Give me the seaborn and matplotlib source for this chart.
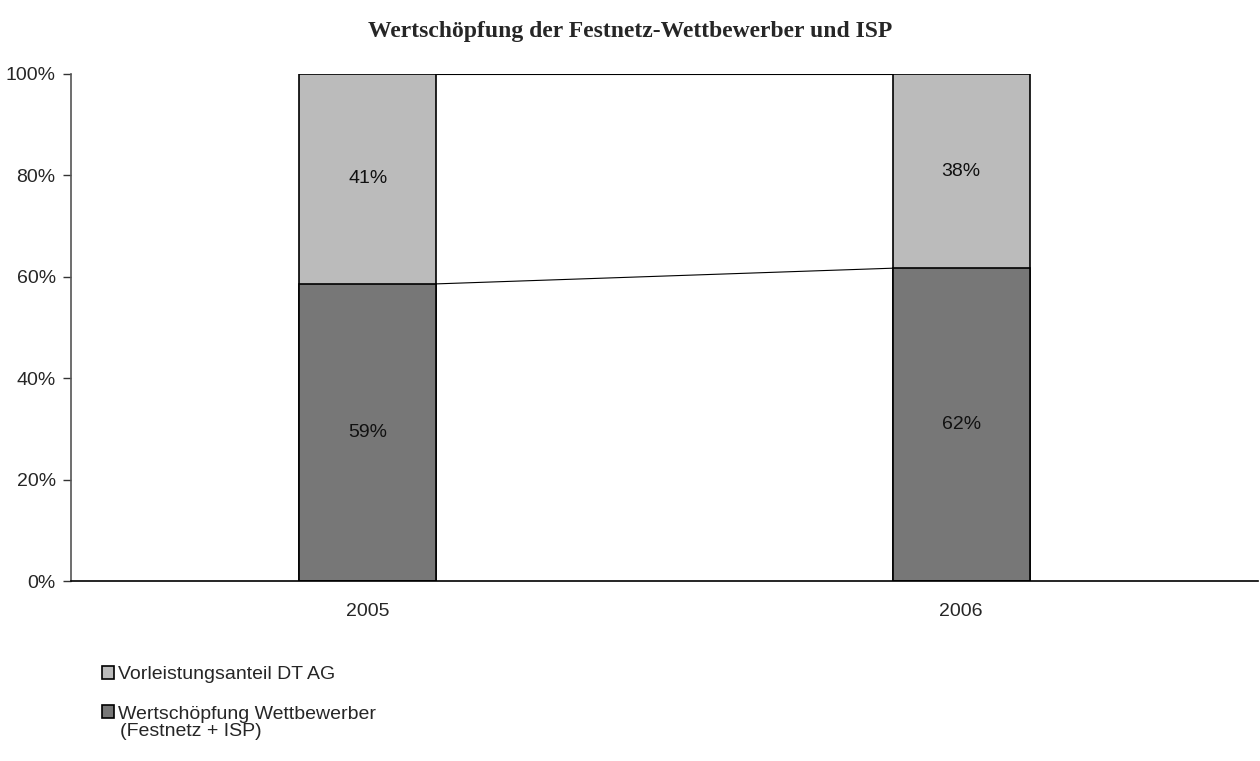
import pandas as pd
import matplotlib.pyplot as plt
import seaborn as sns
from matplotlib.patches import Patch

# data
years = ['2005', '2006']
wertschoepfung = [58.6, 61.7]   # Wertschöpfung Wettbewerber (Festnetz + ISP)
vorleistung = [41.4, 38.3]      # Vorleistungsanteil DT AG
label_bottom = ['59%', '62%']
label_top = ['41%', '38%']
series_names = ['Vorleistungsanteil DT AG', 'Wertschöpfung Wettbewerber']
series_note = '(Festnetz + ISP)'

light = '#bbbbbb'
dark = '#777777'
bar_w = 0.23
fs = 14

sns.set_style('white')
plt.rcParams['font.family'] = ['Liberation Sans', 'DejaVu Sans']

df = pd.DataFrame({'year': years, 'bottom': wertschoepfung, 'top': vorleistung})
df['total'] = df['bottom'] + df['top']

fig = plt.figure(figsize=(12.6, 7.61), dpi=100)
ax = fig.add_axes([71 / 1260, 1 - 581 / 761, (1258 - 71) / 1260, (581 - 74) / 761])

# stacked bars: full height in light grey, then bottom part in dark grey
sns.barplot(data=df, x='year', y='total', color=light, width=bar_w, saturation=1,
            edgecolor='black', linewidth=1.2, ax=ax)
sns.barplot(data=df, x='year', y='bottom', color=dark, width=bar_w, saturation=1,
            edgecolor='black', linewidth=1.2, ax=ax)

# series lines between bars
for col in ['bottom', 'total']:
    ax.plot([0 + bar_w / 2, 1 - bar_w / 2], df[col].values, color='black', lw=0.8, zorder=1)

# data labels
for i in range(len(years)):
    ax.text(i, df['bottom'][i] / 2, label_bottom[i], ha='center', va='center', fontsize=fs, color='#111111')
    ax.text(i, df['bottom'][i] + df['top'][i] / 2, label_top[i], ha='center', va='center',
            fontsize=fs, color='#111111')

ax.set_xlim(-0.5, 1.5)
ax.set_ylim(0, 100)
ax.set_yticks(range(0, 101, 20))
ax.set_yticklabels([f'{v}%' for v in range(0, 101, 20)], fontsize=fs)
ax.set_xticks([0, 1])
ax.set_xticklabels(years, fontsize=fs)
ax.set_xticks([-0.5, 0.5, 1.5], minor=True)
ax.tick_params(axis='x', which='major', length=0, pad=16)
ax.tick_params(axis='x', which='minor', length=6, width=1, color='#333333', direction='out')
ax.tick_params(axis='y', length=6, width=1, color='#333333', direction='out', left=True, pad=5)
ax.set_xlabel('')
ax.set_ylabel('')
for s in ['top', 'right']:
    ax.spines[s].set_visible(False)
ax.spines['left'].set_color('#555555')
ax.spines['bottom'].set_color('black')
ax.spines['left'].set_linewidth(1.2)
ax.spines['bottom'].set_linewidth(1.2)

fig.text(0.5, 1 - 31 / 761, 'Wertschöpfung der Festnetz-Wettbewerber und ISP', ha='center', va='center',
         fontsize=17, fontweight='bold', family=['Liberation Serif', 'DejaVu Serif'])

handles = [Patch(facecolor=light, edgecolor='black', lw=1.2),
           Patch(facecolor=dark, edgecolor='black', lw=1.2)]
fig.legend(handles, series_names, loc='upper left', bbox_to_anchor=(94 / 1260, 1 - 658 / 761),
           frameon=False, fontsize=fs, handlelength=0.65, handleheight=0.65, handletextpad=0.2,
           labelspacing=1.14, borderaxespad=0)
fig.text(120 / 1260, 1 - 731 / 761, series_note, ha='left', va='center', fontsize=fs)

fig.savefig('out.png', dpi=100)
